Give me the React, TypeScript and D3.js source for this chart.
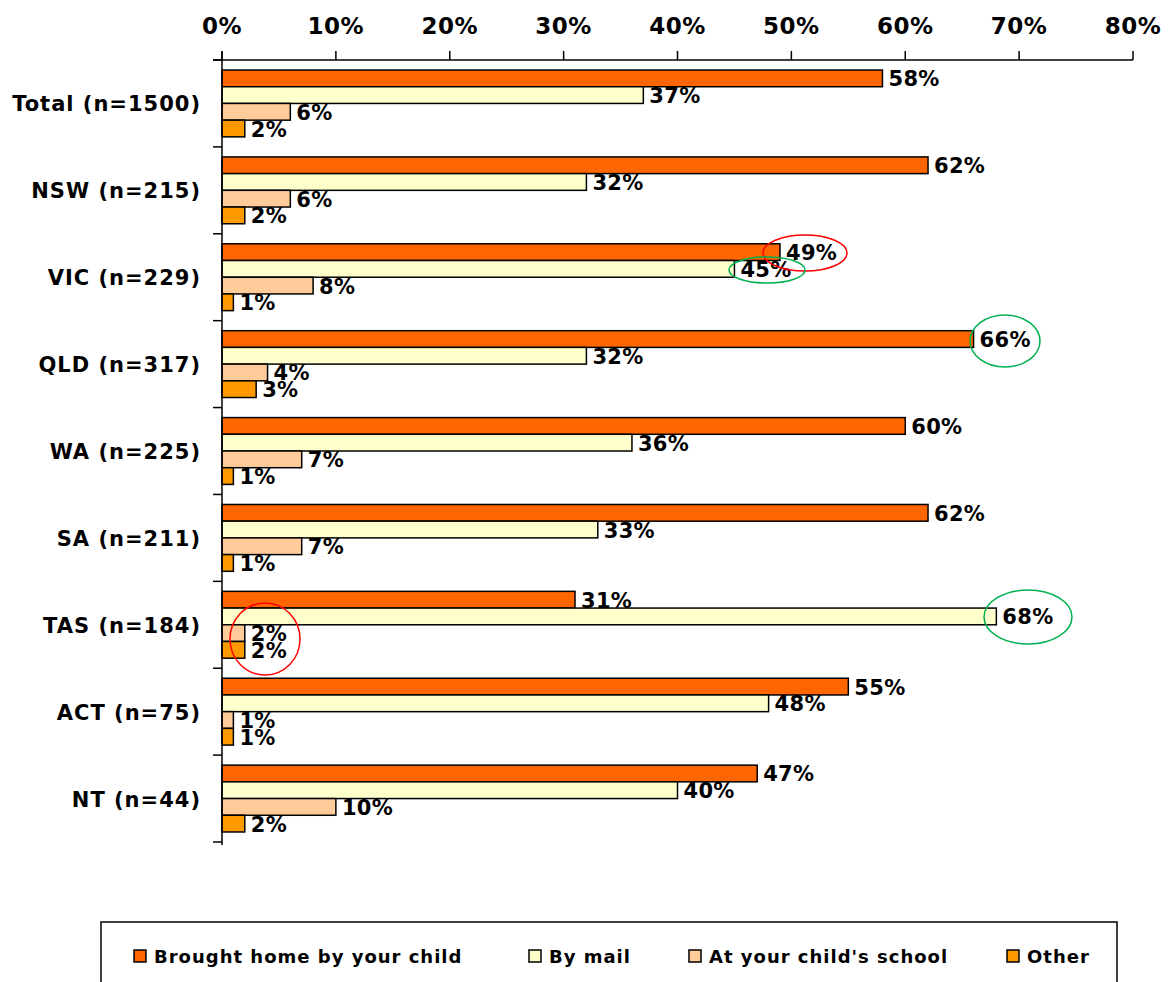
import React from "react";
import * as d3 from "d3";

const categories = ["Total (n=1500)", "NSW (n=215)", "VIC (n=229)", "QLD (n=317)", "WA (n=225)", "SA (n=211)", "TAS (n=184)", "ACT (n=75)", "NT (n=44)"];
const seriesNames = ["Brought home by your child", "By mail", "At your child's school", "Other"];
const broughtHome = [58, 62, 49, 66, 60, 62, 31, 55, 47];
const byMail = [37, 32, 45, 32, 36, 33, 68, 48, 40];
const atSchool = [6, 6, 8, 4, 7, 7, 2, 1, 10];
const other = [2, 2, 1, 3, 1, 1, 2, 1, 2];
const tickValues = [0, 10, 20, 30, 40, 50, 60, 70, 80];
const colors = ["#FF6600", "#FFFFCC", "#FFCC99", "#FF9900"];

const series = [broughtHome, byMail, atSchool, other];

export default function App() {
  const W = 1168, H = 982;
  const x = d3.scaleLinear().domain([0, 80]).range([222, 1133]);
  const y = d3.scaleBand<string>().domain(categories).range([60, 842]).paddingInner(0).paddingOuter(0);
  const inner = d3.scaleBand<number>().domain([0, 1, 2, 3]).range([0, y.bandwidth()]).paddingOuter(0.6).paddingInner(0);
  const font = "'DejaVu Sans', Verdana, sans-serif";
  const boundaries = categories.map((c) => y(c) as number).concat([842]);

  const legendItems = [
    { x: 134, label: seriesNames[0], c: colors[0] },
    { x: 529, label: seriesNames[1], c: colors[1] },
    { x: 689, label: seriesNames[2], c: colors[2] },
    { x: 1007, label: seriesNames[3], c: colors[3] },
  ];

  return (
    <svg width={W} height={H} style={{ position: "absolute", left: 0, top: 0, background: "#fff" }}>
      <line x1={213} x2={1133} y1={60} y2={60} stroke="#000" strokeWidth={1.5} />
      {tickValues.map((t) => (
        <g key={t}>
          <line x1={x(t)} x2={x(t)} y1={51} y2={60} stroke="#000" strokeWidth={1.5} />
          <text x={x(t)} y={34} textAnchor="middle" fontFamily={font} fontWeight="bold" fontSize={23} letterSpacing={0.5}>{t}%</text>
        </g>
      ))}
      {categories.map((c, ci) => (
        <g key={c}>
          <text x={201} y={(y(c) as number) + y.bandwidth() / 2 + 8} textAnchor="end" fontFamily={font} fontWeight="bold" fontSize={21} letterSpacing={1}>{c}</text>
          {series.map((s, si) => {
            const by = (y(c) as number) + (inner(si) as number);
            const bh = inner.bandwidth();
            return (
              <g key={si}>
                <rect x={x(0)} y={by} width={x(s[ci]) - x(0)} height={bh} fill={colors[si]} stroke="#000" strokeWidth={1.5} />
                <text x={x(s[ci]) + 6} y={by + bh / 2 + 8} fontFamily={font} fontWeight="bold" fontSize={21} letterSpacing={0.3}>{s[ci]}%</text>
              </g>
            );
          })}
        </g>
      ))}
      <line x1={222} x2={222} y1={51} y2={845} stroke="#000" strokeWidth={1.5} />
      {boundaries.map((b, i) => (
        <line key={i} x1={213} x2={222} y1={b} y2={b} stroke="#000" strokeWidth={1.5} />
      ))}
      <ellipse cx={805} cy={253} rx={42} ry={18} fill="none" stroke="#FF0000" strokeWidth={1.5} />
      <ellipse cx={767} cy={270} rx={38} ry={13} fill="none" stroke="#00B050" strokeWidth={1.5} />
      <ellipse cx={1005} cy={341} rx={35} ry={26} fill="none" stroke="#00B050" strokeWidth={1.5} />
      <ellipse cx={1028} cy={617} rx={44} ry={27} fill="none" stroke="#00B050" strokeWidth={1.5} />
      <ellipse cx={265} cy={639} rx={35} ry={36} fill="none" stroke="#FF0000" strokeWidth={1.5} />
      <rect x={101} y={922} width={1016} height={80} fill="#fff" stroke="#000" strokeWidth={1.5} />
      {legendItems.map((l) => (
        <g key={l.label}>
          <rect x={l.x} y={950} width={12} height={12} fill={l.c} stroke="#000" strokeWidth={1.5} />
          <text x={l.x + 20} y={963} fontFamily={font} fontWeight="bold" fontSize={18} letterSpacing={1}>{l.label}</text>
        </g>
      ))}
    </svg>
  );
}
